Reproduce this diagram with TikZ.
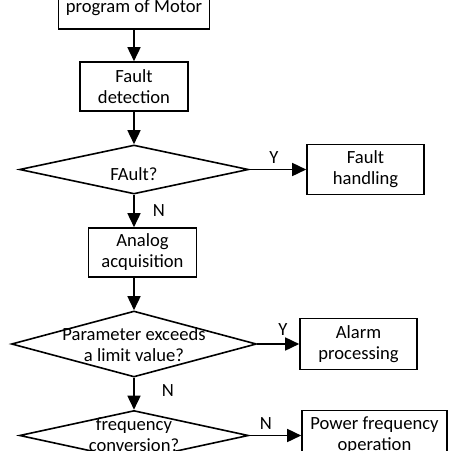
\documentclass[tikz,border=0pt]{standalone}
\usepackage{fontspec}
\setmainfont{Carlito}
\usetikzlibrary{shapes.geometric,arrows.meta}
\begin{document}
\begin{tikzpicture}[x=1pt,y=-1pt,
  box/.style={draw, line width=1.6pt, fill=white, align=center, inner sep=0pt, font=\fontsize{18.6}{21}\selectfont},
  dia/.style={draw, diamond, line width=1.6pt, inner sep=0pt, aspect=4},
  txt/.style={align=center, inner sep=0pt, font=\fontsize{18.6}{21}\selectfont},
  lbl/.style={inner sep=0pt, font=\fontsize{18.6}{21}\selectfont},
  arr/.style={line width=1.6pt, -{Triangle[length=14pt,width=13pt]}}
]
\useasboundingbox (0,0) rectangle (451,451);
\node[box, minimum width=151pt, minimum height=50pt] (b1) at (134,4) {\mbox{}\\program of Motor};
\node[box, minimum width=108pt, minimum height=49pt] (b2) at (134,86.5) {Fault\\detection};
\node[dia, minimum width=229pt, minimum height=49pt] (d1) at (134,169.5) {};
\node[txt] (t1) at (134,174) {FAult?};
\node[box, minimum width=117pt, minimum height=50pt] (bF) at (365.5,169.5) {Fault\\handling};
\node[box, minimum width=108pt, minimum height=49pt] (b3) at (142.5,252.5) {Analog\\acquisition};
\node[dia, minimum width=245pt, minimum height=66pt] (d2) at (134,344) {};
\node[txt] (t2) at (134,345) {Parameter exceeds\\a limit value?};
\node[box, minimum width=117pt, minimum height=51pt] (bA) at (358.5,344) {Alarm\\processing};
\node[dia, minimum width=229pt, minimum height=50pt] (d3) at (134,435.5) {};
\node[txt] (t3) at (134,435) {frequency\\conversion?};
\node[box, minimum width=145pt, minimum height=50pt] (bP) at (374.5,435.5) {Power frequency\\operation};

\draw[arr] (b1.south) -- (b2.north);
\draw[arr] (b2.south) -- (d1.north);
\draw[arr] (d1.east) -- (bF.west);
\draw[arr] (d1.south) -- (d1.south |- b3.north);
\draw[arr] (d2.north |- b3.south) -- (d2.north);
\draw[arr] (d2.east) -- (bA.west);
\draw[arr] (d2.south) -- (d3.north);
\draw[arr] (d3.east) -- (bP.west);

\node[lbl] (y1) at (274,158) {Y};
\node[lbl] (n1) at (159,211) {N};
\node[lbl] (y2) at (283,330) {Y};
\node[lbl] (n2) at (168,391) {N};
\node[lbl] (n3) at (266,424) {N};
\end{tikzpicture}
\end{document}
